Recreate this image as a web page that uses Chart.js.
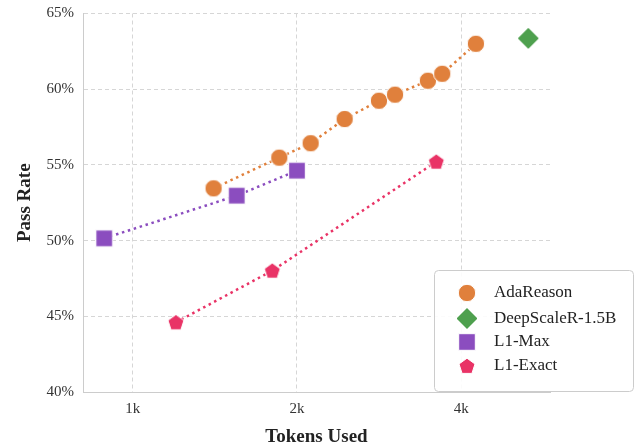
<!DOCTYPE html>
<html>
<head>
<meta charset="utf-8">
<script src="https://cdn.jsdelivr.net/npm/chart.js@4/dist/chart.umd.min.js"></script>
<style>
  html, body { margin: 0; padding: 0; background: #fff; }
  #wrap { width: 638px; height: 445px; }
</style>
</head>
<body>
<div id="wrap"><canvas id="myChart" width="638" height="445"></canvas></div>
<script>
// data (tokens, pass rate %)
const adaTokens = [1407, 1856, 2119, 2446, 2827, 3025, 3475, 3691, 4255];
const adaPass = [53.45, 55.48, 56.43, 58.03, 59.24, 59.64, 60.56, 61.02, 63.0];
const deepTokens = [5307];
const deepPass = [63.36];
const maxTokens = [887, 1551, 2000];
const maxPass = [50.15, 52.97, 54.62];
const exactTokens = [1200, 1802, 3600];
const exactPass = [44.6, 48.01, 55.21];
const xTicks = [1000, 2000, 4000];
const xTickLabels = ['1k', '2k', '4k'];

const colors = {
    ada: '#e0803c',
    deep: '#4ea04e',
    max: '#8b4dbf',
    exact: '#e93366'
};

// marker images, the library has no pentagon
function makeMarker(kind, color) {
    const c = document.createElement('canvas');
    c.width = 26;
    c.height = 26;
    const ctx = c.getContext('2d');
    const m = 13;
    ctx.fillStyle = color;
    ctx.strokeStyle = '#ffffff';
    ctx.lineWidth = 1;
    ctx.beginPath();
    if (kind == 'circle') {
        ctx.arc(m, m, 8.7, 0, Math.PI * 2);
    } else if (kind == 'diamond') {
        ctx.moveTo(m, m - 11);
        ctx.lineTo(m + 11, m);
        ctx.lineTo(m, m + 11);
        ctx.lineTo(m - 11, m);
        ctx.closePath();
    } else if (kind == 'square') {
        ctx.rect(m - 8.3, m - 8.3, 16.6, 16.6);
    } else {
        const r = 8.4;
        for (let i = 0; i < 5; i++) {
            const a = -Math.PI / 2 + i * 2 * Math.PI / 5;
            const px = m + r * Math.cos(a);
            const py = m + 0.6 + r * Math.sin(a);
            if (i == 0) ctx.moveTo(px, py); else ctx.lineTo(px, py);
        }
        ctx.closePath();
    }
    ctx.fill();
    ctx.stroke();
    return c;
}

const markers = {
    ada: makeMarker('circle', colors.ada),
    deep: makeMarker('diamond', colors.deep),
    max: makeMarker('square', colors.max),
    exact: makeMarker('pentagon', colors.exact)
};

function pts(xs, ys) {
    return xs.map((x, i) => ({ x: x, y: ys[i] }));
}

const serif = "'Liberation Serif', 'DejaVu Serif', serif";

const legendItems = [
    { label: 'AdaReason', key: 'ada' },
    { label: 'DeepScaleR-1.5B', key: 'deep' },
    { label: 'L1-Max', key: 'max' },
    { label: 'L1-Exact', key: 'exact' }
];

// legend box drawn in the lower right of the plot
const boxLegend = {
    id: 'boxLegend',
    afterDraw(chart) {
        const ctx = chart.ctx;
        const x0 = 434.5, y0 = 270.5, w = 199, h = 121;
        ctx.save();
        ctx.beginPath();
        ctx.roundRect(x0, y0, w, h, 4);
        ctx.fillStyle = 'rgba(255,255,255,0.9)';
        ctx.fill();
        ctx.strokeStyle = '#cccccc';
        ctx.lineWidth = 1;
        ctx.stroke();
        ctx.font = '17px ' + serif;
        ctx.fillStyle = '#222';
        ctx.textBaseline = 'middle';
        const rows = [293, 318.5, 342, 366];
        legendItems.forEach((item, i) => {
            const img = markers[item.key];
            ctx.drawImage(img, 467 - 13, rows[i] - 13);
            ctx.fillText(item.label, 494, rows[i]);
        });
        ctx.restore();
    }
};

function lineSet(label, xs, ys, key) {
    return {
        label: label,
        data: pts(xs, ys),
        showLine: xs.length > 1,
        borderColor: colors[key],
        backgroundColor: colors[key],
        borderWidth: 2.5,
        borderDash: [2.5, 3.7],
        pointStyle: markers[key],
        pointRadius: 9,
        tension: 0
    };
}

const config = {
    type: 'scatter',
    data: {
        datasets: [
            lineSet('L1-Exact', exactTokens, exactPass, 'exact'),
            lineSet('L1-Max', maxTokens, maxPass, 'max'),
            lineSet('AdaReason', adaTokens, adaPass, 'ada'),
            lineSet('DeepScaleR-1.5B', deepTokens, deepPass, 'deep')
        ]
    },
    options: {
        responsive: false,
        animation: false,
        events: [],
        layout: {
            padding: { top: 13.5, right: 88, left: 0, bottom: 0 }
        },
        plugins: {
            legend: { display: false },
            tooltip: { enabled: false }
        },
        scales: {
            x: {
                type: 'logarithmic',
                min: 811,
                max: 5816,
                afterBuildTicks: (scale) => {
                    scale.ticks = xTicks.map(v => ({ value: v }));
                },
                afterFit: (scale) => { scale.height = 53; },
                ticks: {
                    callback: (v) => xTickLabels[xTicks.indexOf(v)],
                    font: { family: serif, size: 15 },
                    color: '#333',
                    padding: 8
                },
                grid: {
                    color: '#d6d6d6',
                    drawTicks: false
                },
                border: { color: '#cccccc', dash: [4, 3], display: true },
                title: {
                    display: true,
                    text: 'Tokens Used',
                    font: { family: serif, size: 19, weight: 'bold' },
                    color: '#222',
                    padding: { top: -3.5, bottom: -3.5 }
                }
            },
            y: {
                min: 40,
                max: 65,
                afterFit: (scale) => {
                    scale.width = 83;
                    scale.paddingTop = 0;
                    scale.paddingBottom = 0;
                },
                ticks: {
                    stepSize: 5,
                    callback: (v) => v + '%',
                    font: { family: serif, size: 15 },
                    color: '#333',
                    padding: 9
                },
                grid: {
                    color: '#d6d6d6',
                    drawTicks: false
                },
                border: { color: '#cccccc', dash: [4, 3] },
                title: {
                    display: true,
                    text: 'Pass Rate',
                    font: { family: serif, size: 19, weight: 'bold' },
                    color: '#222',
                    padding: { top: 14, bottom: 14 }
                }
            }
        }
    },
    plugins: [boxLegend]
};

// the axis lines themselves are solid, only the grid is dashed
const solidAxes = {
    id: 'solidAxes',
    afterDatasetsDraw(chart) {
        const a = chart.chartArea;
        const ctx = chart.ctx;
        ctx.save();
        ctx.strokeStyle = '#cccccc';
        ctx.lineWidth = 1;
        ctx.beginPath();
        ctx.moveTo(Math.round(a.left) + 0.5, a.top);
        ctx.lineTo(Math.round(a.left) + 0.5, Math.round(a.bottom) + 0.5);
        ctx.lineTo(a.right, Math.round(a.bottom) + 0.5);
        ctx.stroke();
        ctx.restore();
    }
};
config.plugins.unshift(solidAxes);

const myChart = new Chart(document.getElementById('myChart'), config);
</script>
</body>
</html>
